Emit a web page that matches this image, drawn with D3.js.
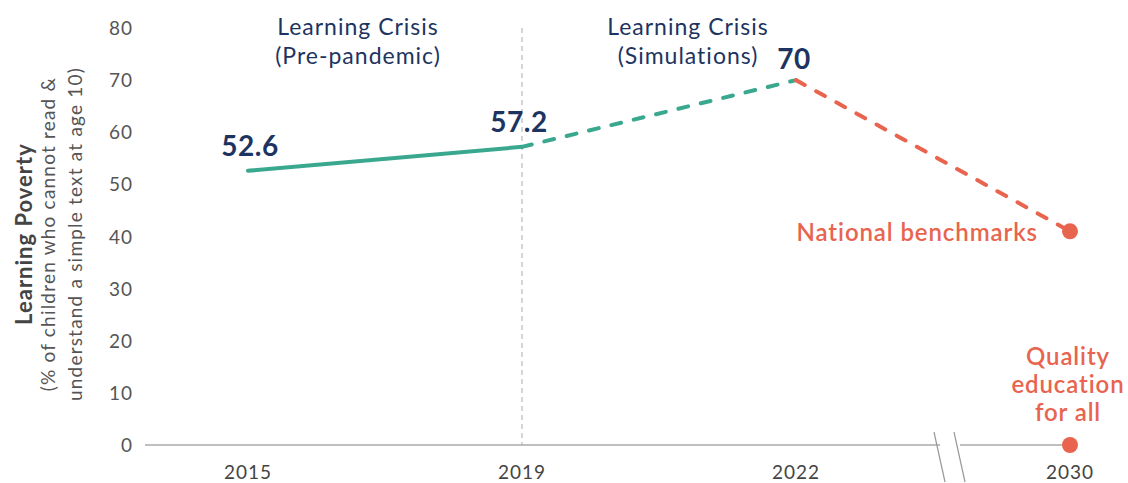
<!DOCTYPE html>
<html><head><meta charset="utf-8">
<script src="https://cdn.jsdelivr.net/npm/d3@7"></script>
<style>body{margin:0;background:#fff;} text{font-family:Lato,"Open Sans",sans-serif;}</style>
</head><body>
<svg id="c" width="1128" height="483"></svg>
<script>
const years = ["2015","2019","2022","2030"];
const actual = [{year:"2015",v:52.6},{year:"2019",v:57.2}];
const simulated = [{year:"2019",v:57.2},{year:"2022",v:70}];
const target = [{year:"2022",v:70},{year:"2030",v:41}];
const targetDots = [41, 0];
const valueLabels = [{year:"2015",v:52.6,t:"52.6"},{year:"2019",v:57.2,t:"57.2"},{year:"2022",v:70,t:"70"}];
const yTicks = [0,10,20,30,40,50,60,70,80];

const svg = d3.select("#c");
const x = d3.scalePoint().domain(years).range([248,1070]);
const y = d3.scaleLinear().domain([0,80]).range([445,28]);
const navy = "#1d3461", teal = "#3aa88f", coral = "#e8644e", grey = "#555";

// y tick labels
svg.append("g").selectAll("text").data(yTicks).join("text")
  .attr("x",133).attr("y",d=>y(d)+7).attr("text-anchor","end")
  .attr("font-size",19).attr("letter-spacing",1).attr("fill",grey).text(d=>d);

// baseline with break
const bx1 = 940, bx2 = 960;
svg.append("line").attr("x1",145).attr("x2",bx1).attr("y1",y(0)).attr("y2",y(0)).attr("stroke","#aaa").attr("stroke-width",1.5);
svg.append("line").attr("x1",bx2).attr("x2",x("2030")).attr("y1",y(0)).attr("y2",y(0)).attr("stroke","#aaa").attr("stroke-width",1.5);
[bx1-6, bx2-6].forEach(b=>{
  svg.append("line").attr("x1",b).attr("y1",432).attr("x2",b+11).attr("y2",482).attr("stroke","#999").attr("stroke-width",1.2);
});

// x tick labels
svg.append("g").selectAll("text").data(years).join("text")
  .attr("x",d=>x(d)).attr("y",479).attr("text-anchor","middle")
  .attr("font-size",19).attr("letter-spacing",1).attr("fill","#444").text(d=>d);

// vertical dashed divider
svg.append("line").attr("x1",x("2019")).attr("x2",x("2019")).attr("y1",28).attr("y2",y(0))
  .attr("stroke","#aaa").attr("stroke-width",1).attr("stroke-dasharray","5,4");

// period labels
const periods = [{cx:358,l:["Learning Crisis","(Pre-pandemic)"]},{cx:688,l:["Learning Crisis","(Simulations)"]}];
periods.forEach(p=>{
  p.l.forEach((s,i)=>svg.append("text").attr("x",p.cx).attr("y",35+i*29).attr("text-anchor","middle")
    .attr("font-size",23).attr("letter-spacing",1).attr("fill",navy).text(s));
});

// lines
const line = d3.line().x(d=>x(d.year)).y(d=>y(d.v));
svg.append("path").datum(actual).attr("d",line).attr("fill","none").attr("stroke",teal).attr("stroke-width",4).attr("stroke-linecap","round");
svg.append("path").datum(simulated).attr("d",line).attr("fill","none").attr("stroke",teal).attr("stroke-width",4).attr("stroke-linecap","round").attr("stroke-dasharray","10,13");
svg.append("path").datum(target).attr("d",line).attr("fill","none").attr("stroke",coral).attr("stroke-width",4).attr("stroke-linecap","round").attr("stroke-dasharray","10,13");

// dots
svg.append("g").selectAll("circle").data(targetDots).join("circle")
  .attr("cx",x("2030")).attr("cy",d=>y(d)).attr("r",8).attr("fill",coral);

// value labels
const offs = {"2015":[2,-15],"2019":[-3,-15],"2022":[-2,-11]};
svg.append("g").selectAll("text").data(valueLabels).join("text")
  .attr("x",d=>x(d.year)+offs[d.year][0]).attr("y",d=>y(d.v)+offs[d.year][1])
  .attr("text-anchor","middle").attr("font-size",28).attr("letter-spacing",0.5).attr("font-weight","bold").attr("fill",navy).text(d=>d.t);

// target labels
svg.append("text").attr("x",1038).attr("y",y(41)+10).attr("text-anchor","end")
  .attr("font-size",24).attr("letter-spacing",0.9).attr("fill",coral).attr("font-weight",600).text("National benchmarks");
["Quality","education","for all"].forEach((s,i)=>svg.append("text").attr("x",1068).attr("y",365+i*28)
  .attr("text-anchor","middle").attr("font-size",24).attr("letter-spacing",0.9).attr("fill",coral).attr("font-weight",600).text(s));

// y axis title
const yt = svg.append("text").attr("transform","translate(32,234) rotate(-90)").attr("text-anchor","middle");
yt.append("tspan").attr("x",0).attr("dy",0).attr("font-size",22).attr("letter-spacing",1).attr("font-weight","bold").attr("fill","#444").text("Learning Poverty");
const ys = svg.append("text").attr("transform","translate(55,234) rotate(-90)").attr("text-anchor","middle").attr("font-size",19).attr("letter-spacing",1.2).attr("fill",grey);
ys.append("tspan").attr("x",0).attr("dy",0).text("(% of children who cannot read &");
ys.append("tspan").attr("x",0).attr("dy",27).text("understand a simple text at age 10)");
</script>
</body></html>
